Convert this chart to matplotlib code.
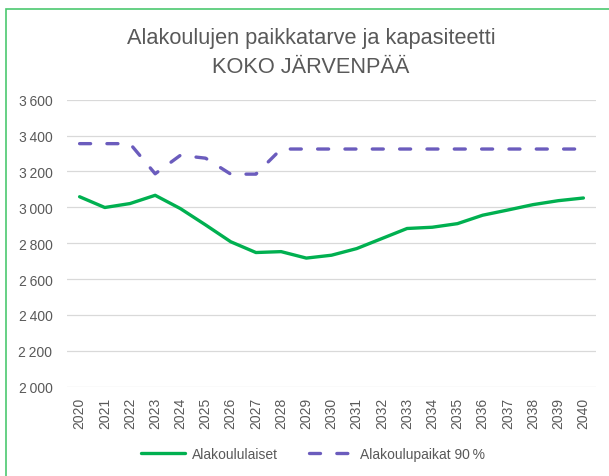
import matplotlib
matplotlib.use("Agg")
import matplotlib.pyplot as plt
from matplotlib.patches import Rectangle

years = [str(y) for y in range(2020, 2041)]
alakoululaiset = [3059, 2999, 3021, 3067, 2993, 2902, 2808, 2748, 2753, 2717, 2733,
                  2770, 2826, 2882, 2889, 2909, 2956, 2985, 3015, 3037, 3052]
alakoulupaikat = [3355, 3355, 3355, 3187, 3290, 3274, 3185, 3185, 3325, 3325, 3325,
                  3325, 3325, 3325, 3325, 3325, 3325, 3325, 3325, 3325, 3325]
yticks = [2000, 2200, 2400, 2600, 2800, 3000, 3200, 3400, 3600]
ytick_labels = ["2\u2009000", "2\u2009200", "2\u2009400", "2\u2009600", "2\u2009800",
                "3\u2009000", "3\u2009200", "3\u2009400", "3\u2009600"]
title = "Alakoulujen paikkatarve ja kapasiteetti\nKOKO JÄRVENPÄÄ"
series_names = ["Alakoululaiset", "Alakoulupaikat 90\u2009%"]

plt.rcParams['font.family'] = ['Liberation Sans', 'DejaVu Sans']
txt = '#595959'

fig = plt.figure(figsize=(6.09, 4.77), dpi=100)
fig.patch.set_facecolor('white')
# outer green frame (extends beyond right/bottom edges)
fig.patches.append(Rectangle((6 / 609, -0.05), 1.2, 1 - 10 / 477 + 0.05,
                             transform=fig.transFigure, fill=False,
                             edgecolor='#4cc870', linewidth=1.2))

ax = fig.add_axes([67 / 609, 1 - 387.7 / 477, (596 - 67) / 609, (387.7 - 100.7) / 477])
x = list(range(len(years)))
ax.plot(x, alakoululaiset, color='#00b050', linewidth=2.4, solid_capstyle='round',
        solid_joinstyle='round', label=series_names[0], zorder=3)
ax.plot(x, alakoulupaikat, color='#6b5cbd', linewidth=2.4, dashes=(3.3, 4.9),
        dash_capstyle='round', label=series_names[1], zorder=3)

ax.set_xlim(-0.5, len(years) - 0.5)
ax.set_ylim(2000, 3600)
ax.set_yticks(yticks)
ax.set_yticklabels(ytick_labels)
ax.set_xticks(x)
ax.set_xticklabels(years, rotation=90)
ax.tick_params(axis='both', length=0, colors=txt, labelsize=10)
ax.tick_params(axis='y', pad=10.5)
ax.tick_params(axis='x', pad=7.5)
ax.grid(axis='y', color='#d9d9d9', linewidth=0.9)
ax.set_axisbelow(True)
for s in ax.spines.values():
    s.set_visible(False)

fig.text(311 / 609, 1 - 53 / 477, title, ha='center', va='center', fontsize=15.7,
         color=txt, linespacing=1.55)

fig.legend(loc='center', bbox_to_anchor=(313 / 609, 1 - 455 / 477), ncol=2,
           frameon=False, fontsize=10, labelcolor=txt, handlelength=3.2,
           columnspacing=2.2, handletextpad=0.5)

fig.savefig('out.png', dpi=100, facecolor='white')
